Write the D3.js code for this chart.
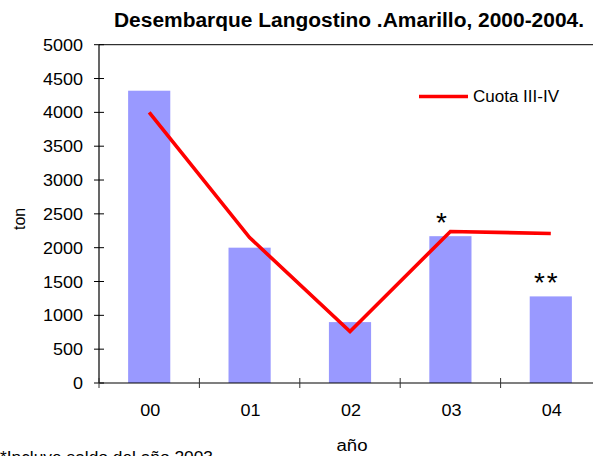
<!DOCTYPE html>
<html>
<head>
<meta charset="utf-8">
<script src="https://cdn.jsdelivr.net/npm/d3@7"></script>
<style>
  html, body { margin: 0; padding: 0; background: #fff; }
  svg { display: block; }
  text { font-family: "Liberation Sans", Arial, sans-serif; fill: #000; }
</style>
</head>
<body>
<svg id="chart" width="593" height="456"></svg>
<script>
// ---- data ----
const categories = ["00", "01", "02", "03", "04"];
const desembarque = [4320, 2000, 900, 2170, 1280];
const cuota = [4000, 2150, 760, 2240, 2210];
const barMarks = ["", "", "", "*", "**"];
const yTicks = [0, 500, 1000, 1500, 2000, 2500, 3000, 3500, 4000, 4500, 5000];
const titleText = "Desembarque Langostino .Amarillo, 2000-2004.";
const legendText = "Cuota III-IV";
const xTitle = "año";
const yTitle = "ton";
const noteText = "*Incluye saldo del año 2003";

// ---- layout ----
const svg = d3.select("#chart");
const pLeft = 99, pRight = 601, pTop = 44.7, pBottom = 383;

const x = d3.scaleBand().domain(categories).range([pLeft, pRight]).padding(0);
const y = d3.scaleLinear().domain([0, 5000]).range([pBottom, pTop]);
const barW = x.bandwidth() * 0.42;

// bars
svg.append("g").selectAll("rect").data(categories).join("rect")
  .attr("x", (d) => x(d) + x.bandwidth() / 2 - barW / 2)
  .attr("y", (d, i) => y(desembarque[i]))
  .attr("width", barW)
  .attr("height", (d, i) => y(0) - y(desembarque[i]))
  .attr("fill", "#9999FF");

// frame: top border
svg.append("line").attr("x1", pLeft).attr("x2", pRight).attr("y1", y(5000)).attr("y2", y(5000))
  .attr("stroke", "#000").attr("stroke-width", 1);

// y axis
const yAxis = svg.append("g");
yAxis.append("line").attr("x1", pLeft).attr("x2", pLeft).attr("y1", y(0)).attr("y2", y(5000))
  .attr("stroke", "#000").attr("stroke-width", 1.2);
yAxis.selectAll("line.tick").data(yTicks).join("line").attr("class", "tick")
  .attr("x1", pLeft - 5).attr("x2", pLeft + 5)
  .attr("y1", (d) => y(d)).attr("y2", (d) => y(d))
  .attr("stroke", "#000").attr("stroke-width", 1);
yAxis.selectAll("text").data(yTicks).join("text")
  .attr("x", 83).attr("y", (d) => y(d) + 6)
  .attr("text-anchor", "end").attr("font-size", 16)
  .attr("textLength", (d) => String(d).length * 10)
  .attr("lengthAdjust", "spacingAndGlyphs")
  .text((d) => d);

// x axis
const xAxis = svg.append("g");
xAxis.append("line").attr("x1", pLeft).attr("x2", pRight).attr("y1", y(0)).attr("y2", y(0))
  .attr("stroke", "#000").attr("stroke-width", 1.2);
const bounds = categories.map((c) => x(c)).concat([pRight]);
xAxis.selectAll("line.tick").data(bounds).join("line").attr("class", "tick")
  .attr("x1", (d) => d).attr("x2", (d) => d)
  .attr("y1", y(0) - 5).attr("y2", y(0) + 5)
  .attr("stroke", "#333").attr("stroke-width", 1);
xAxis.selectAll("text").data(categories).join("text")
  .attr("x", (d) => x(d) + x.bandwidth() / 2 + 1)
  .attr("y", 416)
  .attr("text-anchor", "middle").attr("font-size", 16)
  .attr("textLength", 20).attr("lengthAdjust", "spacingAndGlyphs")
  .text((d) => d);

// line
const line = d3.line()
  .x((d, i) => x(categories[i]) + x.bandwidth() / 2)
  .y((d) => y(d));
svg.append("path").datum(cuota)
  .attr("d", line).attr("fill", "none")
  .attr("stroke", "#FF0000").attr("stroke-width", 3.6)
  .attr("stroke-linejoin", "miter");

// asterisk marks
svg.append("g").selectAll("text").data(categories).join("text")
  .attr("x", (d, i) => x(d) + x.bandwidth() / 2 - (barMarks[i].length === 1 ? 8 : 4))
  .attr("y", (d, i) => y(desembarque[i]) - 4)
  .attr("text-anchor", "middle").attr("font-size", 28)
  .attr("letter-spacing", 2)
  .text((d, i) => barMarks[i]);

// title
svg.append("text").attr("x", 349).attr("y", 27)
  .attr("text-anchor", "middle").attr("font-size", 19.5).attr("font-weight", "bold")
  .attr("textLength", 470).attr("lengthAdjust", "spacingAndGlyphs")
  .text(titleText);

// legend
svg.append("line").attr("x1", 419).attr("x2", 468).attr("y1", 96.5).attr("y2", 96.5)
  .attr("stroke", "#FF0000").attr("stroke-width", 3.6);
svg.append("text").attr("x", 473).attr("y", 102)
  .attr("font-size", 16).attr("textLength", 86).attr("lengthAdjust", "spacingAndGlyphs")
  .text(legendText);

// axis titles
svg.append("text").attr("x", 352).attr("y", 451)
  .attr("text-anchor", "middle").attr("font-size", 16)
  .attr("textLength", 31).attr("lengthAdjust", "spacingAndGlyphs")
  .text(xTitle);
svg.append("text").attr("transform", "translate(25,219) rotate(-90)")
  .attr("text-anchor", "middle").attr("font-size", 16)
  .attr("textLength", 22).attr("lengthAdjust", "spacingAndGlyphs")
  .text(yTitle);

// cut-off note at bottom (cropped in the reference)
svg.append("text").attr("x", 0).attr("y", 463)
  .attr("font-size", 16).attr("textLength", 213).attr("lengthAdjust", "spacingAndGlyphs")
  .text(noteText);
</script>
</body>
</html>
